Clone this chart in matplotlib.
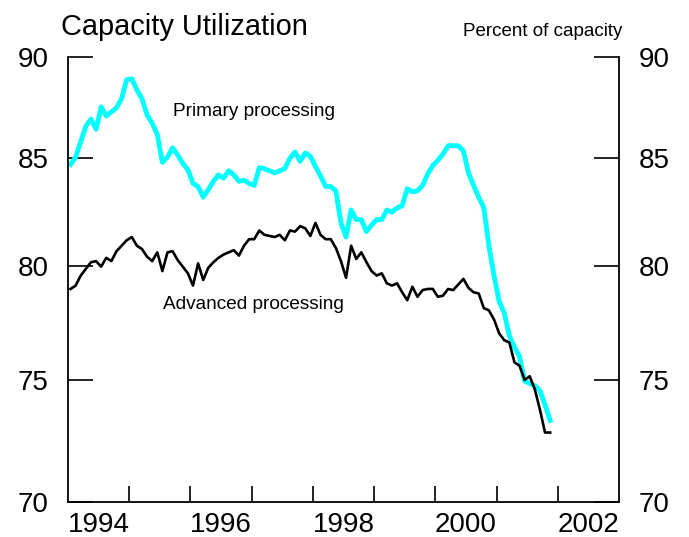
import numpy as np
import matplotlib
matplotlib.use("Agg")
import matplotlib.pyplot as plt
from matplotlib.ticker import FixedLocator, FixedFormatter, NullLocator

plt.rcParams['font.family'] = ['Liberation Sans', 'DejaVu Sans']

# monthly data, Jan 1994 .. Nov 2001 (percent of capacity)
primary = [84.7, 85.05, 85.8, 86.55, 86.9, 86.4, 87.5, 87.05, 87.25, 87.45,
           87.9, 88.85, 88.9, 88.35, 87.9, 87.1, 86.7, 86.15, 84.8, 85.05,
           85.5, 85.15, 84.75, 84.45, 83.8, 83.65, 83.15, 83.5, 83.9, 84.2,
           84.05, 84.4, 84.2, 83.9, 83.95, 83.8, 83.7, 84.55, 84.5, 84.4,
           84.3, 84.4, 84.5, 85.0, 85.3, 84.85, 85.25, 85.1, 84.6, 84.15,
           83.65, 83.65, 83.45, 81.95, 81.3, 82.55, 82.1, 82.1, 81.55, 81.85,
           82.1, 82.1, 82.55, 82.45, 82.65, 82.75, 83.55, 83.4, 83.45, 83.7,
           84.25, 84.65, 84.9, 85.2, 85.6, 85.6, 85.6, 85.35, 84.3, 83.7,
           83.15, 82.65, 80.9, 79.55, 78.4, 77.9, 76.9, 76.4, 76.0, 74.95,
           74.85, 74.75, 74.55, 73.95, 73.3]

advanced = [78.95, 79.1, 79.55, 79.85, 80.15, 80.2, 79.95, 80.35, 80.2, 80.65,
            80.9, 81.15, 81.3, 80.9, 80.75, 80.4, 80.2, 80.6, 79.75, 80.6,
            80.65, 80.25, 79.95, 79.65, 79.1, 80.1, 79.35, 79.9, 80.15, 80.35,
            80.5, 80.6, 80.7, 80.45, 80.9, 81.2, 81.2, 81.6, 81.4, 81.35,
            81.3, 81.4, 81.15, 81.6, 81.55, 81.8, 81.7, 81.35, 81.95, 81.4,
            81.2, 81.2, 80.8, 80.2, 79.45, 80.9, 80.3, 80.6, 80.15, 79.75,
            79.55, 79.65, 79.2, 79.1, 79.2, 78.8, 78.45, 79.05, 78.6, 78.9,
            78.95, 78.95, 78.6, 78.65, 78.95, 78.9, 79.15, 79.4, 79.0, 78.8,
            78.75, 78.1, 78.0, 77.6, 77.0, 76.7, 76.6, 75.75, 75.6, 75.0,
            75.15, 74.6, 73.75, 72.8, 72.8]

start_year = 1994
year_labels = ['1994', '1996', '1998', '2000', '2002']
y_ticks = [70, 75, 80, 85, 90]

# mid-month positions in fractional years
t = start_year + (np.arange(len(primary)) + 0.5) / 12

fig = plt.figure(figsize=(6.89, 5.37), dpi=100)
ax = fig.add_axes([68/689, 35/537, 551/689, 445/537])

ax.plot(t, primary, color='#00FFFF', lw=3.5)
ax.plot(t, advanced, color='black', lw=1.9)

ax.set_yscale('log')
ax.set_ylim(70, 90)
ax.set_xlim(1994, 2003)

ax.yaxis.set_major_locator(FixedLocator(y_ticks))
ax.yaxis.set_major_formatter(FixedFormatter([str(v) for v in y_ticks]))
ax.yaxis.set_minor_locator(NullLocator())

# year boundaries get a tick, labels sit in the middle of the year
ax.xaxis.set_major_locator(FixedLocator(range(1995, 2003)))
ax.xaxis.set_major_formatter(FixedFormatter([''] * 8))
ax.xaxis.set_minor_locator(FixedLocator([int(y) + 0.5 for y in year_labels]))
ax.xaxis.set_minor_formatter(FixedFormatter(year_labels))

ax.spines['top'].set_visible(False)
for s in ['left', 'right', 'bottom']:
    ax.spines[s].set_linewidth(1.3)

ax.tick_params(axis='y', which='major', direction='in', length=18, width=1.2,
               left=True, right=True, labelleft=True, labelright=True,
               labelsize=20, pad=14)
ax.tick_params(axis='x', which='major', direction='in', length=11.5, width=1.2)
ax.tick_params(axis='x', which='minor', length=0, labelsize=20, pad=7)

ax.text(1995.72, 87.05, 'Primary processing', fontsize=13.7, va='baseline')
ax.text(1995.555, 78.06, 'Advanced processing', fontsize=13.7, va='baseline')

fig.text(61/689, 1 - 35/537, 'Capacity Utilization', fontsize=20.9, va='baseline')
fig.text(622/689, 1 - 36/537, 'Percent of capacity', fontsize=13.5,
         va='baseline', ha='right')

fig.savefig('out.png', dpi=100)
